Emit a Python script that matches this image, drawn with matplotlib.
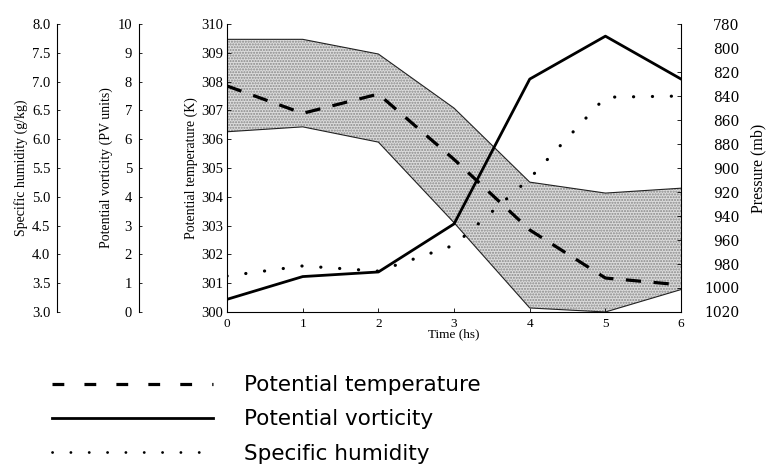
import matplotlib.pyplot as plt
from matplotlib.lines import Line2D

plt.rcParams['lines.scale_dashes'] = False

# data
time_hs = [0, 1, 2, 3, 4, 5, 6]
pot_temp = [307.85, 306.9, 307.57, 305.3, 302.85, 301.18, 300.94]
band_upper = [309.47, 309.47, 308.96, 307.08, 304.51, 304.13, 304.3]
band_lower = [306.26, 306.43, 305.9, 303.1, 300.14, 300.0, 300.78]
pot_vort = [0.44, 1.23, 1.39, 3.06, 8.09, 9.58, 8.09]
spec_hum = [3.625, 3.8, 3.71, 4.16, 5.32, 6.73, 6.75]

sh_ticks = [3.0, 3.5, 4.0, 4.5, 5.0, 5.5, 6.0, 6.5, 7.0, 7.5, 8.0]
pv_ticks = list(range(0, 11))
temp_ticks = list(range(300, 311))
p_ticks = list(range(780, 1021, 20))

serif = 'Liberation Serif'

fig = plt.figure(figsize=(7.67, 4.72), dpi=100)
ax = fig.add_axes([0.296, 0.339, 0.592, 0.610])

# shaded band
ax.fill_between(time_hs, band_lower, band_upper, facecolor='#dcdcdc',
                edgecolor='#888888', hatch='......', linewidth=0)
ax.plot(time_hs, band_upper, color='#222222', lw=0.8)
ax.plot(time_hs, band_lower, color='#222222', lw=0.8)
ax.plot(time_hs, pot_temp, color='black', lw=2.3, linestyle=(0, (11, 9)))

ax.set_xlim(0, 6)
ax.set_ylim(300, 310)
ax.set_yticks(temp_ticks)
ax.set_xticks(time_hs)
ax.spines['top'].set_visible(False)
ax.spines['right'].set_visible(False)
ax.tick_params(direction='in', length=3, width=0.6)
ax.tick_params(axis='y', labelsize=10.5, pad=3)
ax.tick_params(axis='x', labelsize=9.5, pad=4)
for t in ax.get_xticklabels() + ax.get_yticklabels():
    t.set_fontfamily(serif)
ax.set_xlabel('Time (hs)', fontfamily=serif, fontsize=9.5, labelpad=-1)
ax.set_ylabel('Potential temperature (K)', fontfamily=serif, fontsize=10,
              labelpad=2)

# potential vorticity axis
ax_pv = ax.twinx()
ax_pv.plot(time_hs, pot_vort, color='black', lw=2.0)
ax_pv.set_ylim(0, 10)
ax_pv.set_yticks(pv_ticks)
for s in ['top', 'right', 'bottom']:
    ax_pv.spines[s].set_visible(False)
ax_pv.spines['left'].set_position(('axes', -0.194))
ax_pv.yaxis.set_ticks_position('left')
ax_pv.yaxis.set_label_position('left')
ax_pv.tick_params(direction='in', length=2, width=0.6, labelsize=10.5, pad=5)
for t in ax_pv.get_yticklabels():
    t.set_fontfamily(serif)
ax_pv.set_ylabel('Potential vorticity (PV units)', fontfamily=serif,
                 fontsize=10, labelpad=3)

# specific humidity axis
ax_sh = ax.twinx()
ax_sh.plot(time_hs, spec_hum, color='black', lw=2.3,
           linestyle=(0, (0.1, 13.5)), dash_capstyle='round')
ax_sh.set_ylim(3.0, 8.0)
ax_sh.set_yticks(sh_ticks)
ax_sh.yaxis.set_major_formatter('{x:.1f}')
for s in ['top', 'right', 'bottom']:
    ax_sh.spines[s].set_visible(False)
ax_sh.spines['left'].set_position(('axes', -0.374))
ax_sh.yaxis.set_ticks_position('left')
ax_sh.yaxis.set_label_position('left')
ax_sh.tick_params(direction='in', length=2, width=0.6, labelsize=10.5, pad=5)
for t in ax_sh.get_yticklabels():
    t.set_fontfamily(serif)
ax_sh.set_ylabel('Specific humidity (g/kg)', fontfamily=serif, fontsize=10,
                 labelpad=3)

# pressure axis
ax_p = ax.twinx()
ax_p.set_ylim(1020, 780)
ax_p.set_yticks(p_ticks)
for s in ['top', 'left', 'bottom']:
    ax_p.spines[s].set_visible(False)
ax_p.tick_params(direction='in', length=3, width=0.6, labelsize=10, pad=42)
for t in ax_p.get_yticklabels():
    t.set_fontfamily('DejaVu Serif')
    t.set_horizontalalignment('right')
ax_p.set_ylabel('Pressure (mb)', fontfamily=serif, fontsize=11.5, labelpad=8)

# legend
handles = [
    Line2D([], [], color='black', lw=2.3, linestyle=(0, (8.5, 14.5))),
    Line2D([], [], color='black', lw=2.0),
    Line2D([], [], color='black', lw=2.0, linestyle=(0, (0.1, 13.1)),
           dash_capstyle='round'),
]
labels = ['Potential temperature', 'Potential vorticity', 'Specific humidity']
fig.legend(handles, labels, loc='upper left', bbox_to_anchor=(0.068, 0.205),
           frameon=False, handlelength=7.45, handletextpad=1.45,
           labelspacing=0.66, borderpad=0, borderaxespad=0,
           prop={'family': 'DejaVu Sans', 'size': 15.5})

fig.savefig('out.png', dpi=100)
